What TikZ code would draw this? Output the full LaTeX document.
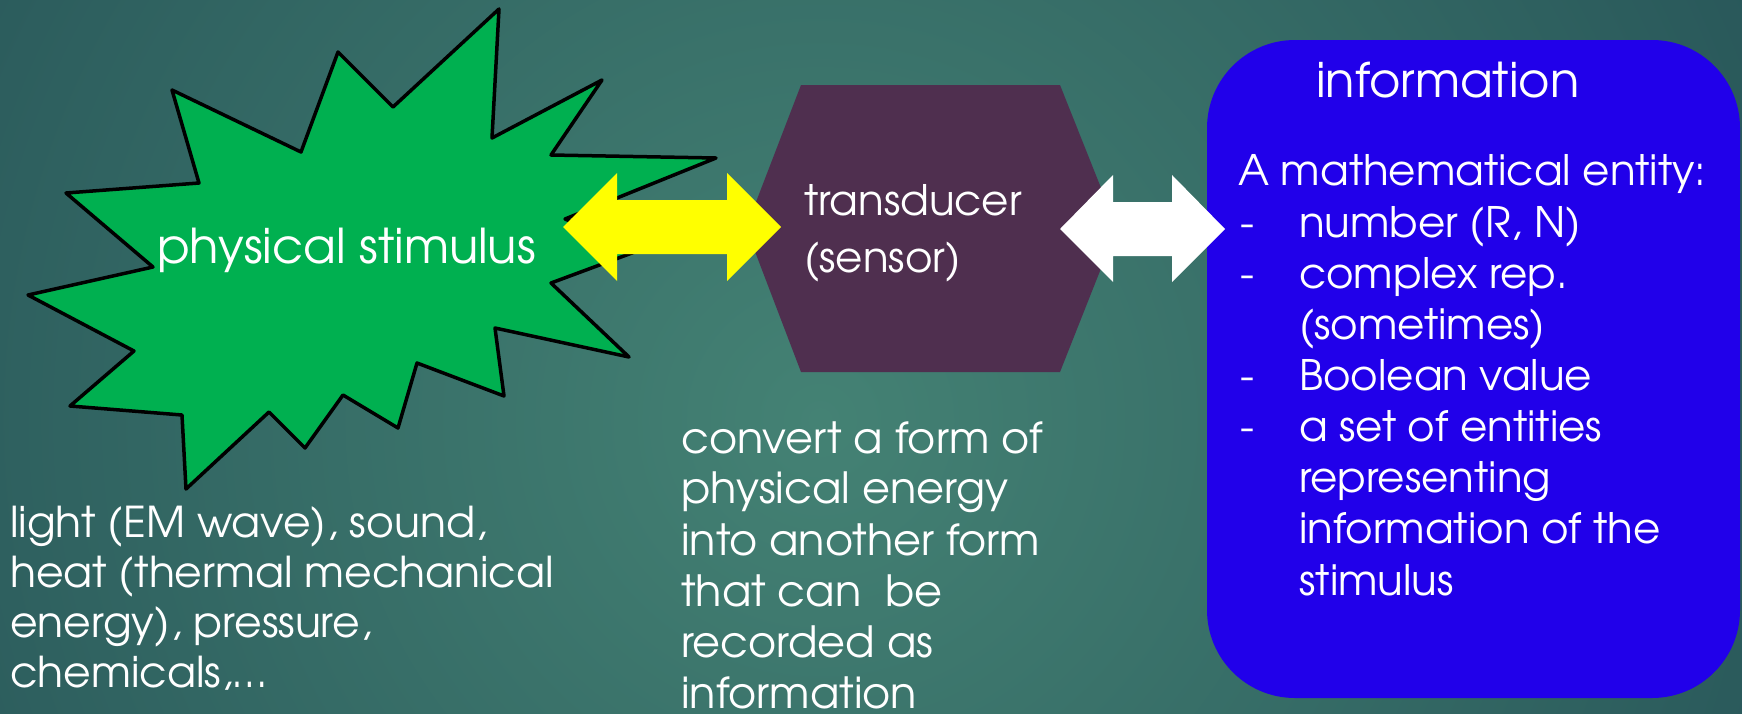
\documentclass[tikz,border=0pt]{standalone}
\usepackage{fontspec}
\setmainfont{TeX Gyre Adventor}
\definecolor{bgin}{RGB}{68,130,116}
\definecolor{bgout}{RGB}{18,52,68}
\definecolor{stargreen}{RGB}{0,176,80}
\definecolor{hexpurple}{RGB}{79,47,79}
\definecolor{boxblue}{RGB}{33,0,234}
\definecolor{arrowyellow}{RGB}{255,255,0}
\tikzset{
  txt/.style={text=white, inner sep=0pt, anchor=base west, font=\fontsize{42}{51}\selectfont},
  bltxt/.style={txt, font=\fontsize{42.5}{51}\selectfont},
  midtxt/.style={txt, font=\fontsize{43}{51}\selectfont},
  bigtxt/.style={text=white, inner sep=0pt, anchor=base west, font=\fontsize{48}{56}\selectfont},
  starshape/.style={fill=stargreen, draw=black, line width=3.5pt, line join=round},
  hexshape/.style={fill=hexpurple},
  infobox/.style={fill=boxblue, rounded corners=88pt},
}
\begin{document}
\begin{tikzpicture}[x=1pt,y=-1pt]
\useasboundingbox (0,0) rectangle (1742,713);
% background
\begin{scope}
\clip (0,0) rectangle (1742,713);
\shade[inner color=bgin, outer color=bgout] (820,420) circle (1900pt);
\end{scope}
% starburst
\draw[starshape] (499,9) -- (492,138) -- (602,80) -- (551,155) -- (716,158) -- (565,219)
  -- (640,250) -- (551,283) -- (629,357) -- (495,328) -- (504,396) -- (417,363)
  -- (398,428) -- (343,395) -- (305,448) -- (269,412) -- (186,489) -- (182,415)
  -- (70,406) -- (134,351) -- (28,295) -- (153,267) -- (66,193) -- (199,183)
  -- (172,90) -- (301,152) -- (338,52) -- (393,107) -- cycle;
% hexagon
\fill[hexshape] (801,85) -- (1060,85) -- (1117,228) -- (1060,372) -- (801,372) -- (746,228) -- cycle;
% information box
\fill[infobox] (1207,40) rectangle (1740,698);
% yellow double arrow
\fill[arrowyellow] (563,227) -- (617,173) -- (617,200) -- (727,200) -- (727,173) -- (781,227)
  -- (727,281) -- (727,254) -- (617,254) -- (617,281) -- cycle;
% white double arrow
\fill[white] (1060,229) -- (1113,175) -- (1113,202) -- (1172,202) -- (1172,175) -- (1225,229)
  -- (1172,282) -- (1172,256) -- (1113,256) -- (1113,282) -- cycle;
% texts
\node[bigtxt] (stim) at (157,263) {physical stimulus};
\node[txt] (trans1) at (804,215) {transducer};
\node[txt] (trans2) at (804,272) {(sensor)};
\node[bigtxt] (infotitle) at (1316,97) {information};
\node[txt] (mathent) at (1238,185) {A mathematical entity:};
\foreach \yy [count=\i] in {237,288,390,441}
  \node[txt] (dash\i) at (1240,\yy) {-};
\foreach \t/\yy [count=\i] in {{number (R, N)}/237,{complex rep.}/288,{(sometimes)}/339,{Boolean value}/390,{a set of entities}/441,{representing}/492,{information of the}/543,{stimulus}/595}
  \node[txt] (item\i) at (1299,\yy) {\t};
\foreach \t/\yy [count=\i] in {{light (EM wave), sound,}/537,{heat (thermal mechanical}/587,{energy), pressure,}/637,{chemicals,…}/687}
  \node[bltxt] (bl\i) at (10,\yy) {\t};
\foreach \t/\yy [count=\i] in {{convert a form of}/453,{physical energy}/503,{into another form}/555,{that can~~be}/606,{recorded as}/657,{information}/708}
  \node[midtxt] (mid\i) at (681,\yy) {\t};
\end{tikzpicture}
\end{document}
